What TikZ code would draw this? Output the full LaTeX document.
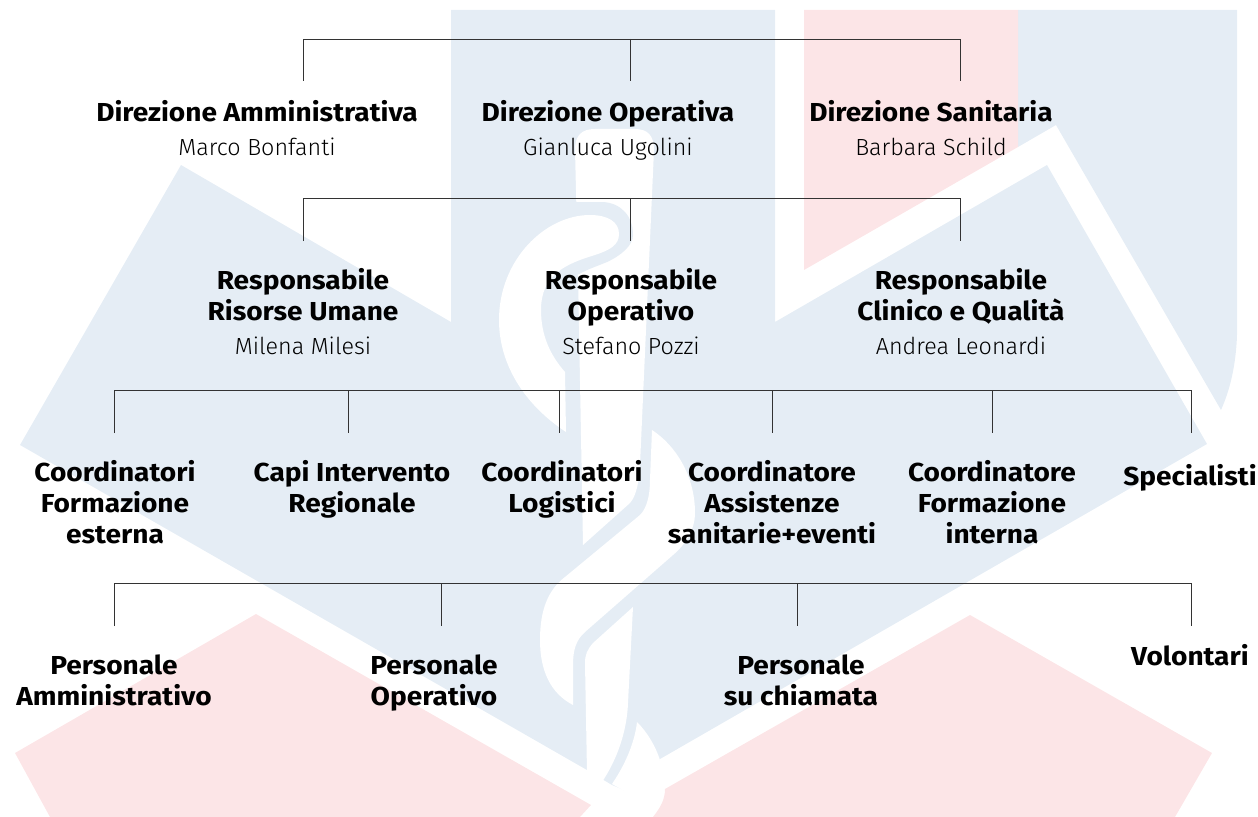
\documentclass[tikz,border=0pt]{standalone}
\usepackage{fontspec}
\setmainfont{Fira Sans}[BoldFeatures={FakeStretch=1.08}]
\newfontfamily\namefont{Fira Sans Light}
\definecolor{bgblue}{HTML}{E5EDF5}
\definecolor{bgpink}{HTML}{FCE5E7}
\definecolor{linecol}{HTML}{333333}
\newcommand{\firstline}{\rule{0pt}{16pt}}
\newcommand{\who}[1]{\\[2.25pt]{\mdseries\namefont\fontsize{17.5}{23.25}\selectfont #1}}
\tikzset{
  x=0.75pt,y=-0.75pt,
  box/.style={anchor=north,align=center,inner sep=0pt,font=\fontsize{19.5}{23.25}\selectfont\bfseries},
  link/.style={draw=linecol,line width=0.6pt},
}
\begin{document}
\begin{tikzpicture}
\useasboundingbox (0,0) rectangle (1258,817);
% background
\fill[bgblue] (451,10)--(775,10)--(775,322)--(1047,165)--(1207,444)--(660,759)--(636,795)--(612,785)--(587,770)--(20,445)--(181,165)--(451,322)--cycle;
\fill[bgblue] (1018,10)--(1237,10)--(1237,335) .. controls (1236,365) and (1230,390) .. (1221,410)--(1056,125)--(1018,147)--cycle;
\fill[bgpink] (804,10)--(1018,10)--(1018,147)--(804,270)--cycle;
\fill[bgpink] (256,614)--(591,805)--(580,817)--(50,817)--(15,753)--cycle;
\fill[bgpink] (970,615)--(1212,753)--(1175,817)--(653,817) .. controls (660,808) and (665,800) .. (665,789)--cycle;
% staff upper
\fill[white] (575,150) .. controls (575,135) and (582,129) .. (595,129)--(635,129) .. controls (648,129) and (654,136) .. (654,150)--(642,420)--(640,465) .. controls (639,480) and (637,495) .. (630,503)--(583,545)--(578,272)--cycle;
\fill[bgblue] (574,202)--(603,202) .. controls (620,203) and (633,215) .. (633,235) .. controls (633,245) and (622,255) .. (607,262) .. controls (595,267) and (585,270) .. (574,277)--cycle;
% snake head
\fill[white] (566,432) .. controls (525,405) and (499,365) .. (499,320) .. controls (499,260) and (545,215) .. (590,215) .. controls (608,215) and (619,222) .. (619,234) .. controls (619,245) and (610,250) .. (595,255) .. controls (565,264) and (541,275) .. (541,310) .. controls (541,335) and (550,355) .. (565,372)--cycle;
% snake lower
\fill[white] (652,430) .. controls (675,445) and (695,475) .. (695,513) .. controls (695,530) and (685,545) .. (673,555)--(585,632) .. controls (576,640) and (573,650) .. (573,665)--(573,705) .. controls (550,693) and (540,670) .. (540,640) .. controls (540,610) and (548,590) .. (565,577)--(640,515) .. controls (647,508) and (650,495) .. (650,480)--cycle;
% staff lower
\fill[white] (633,607)--(593,643) .. controls (587,650) and (585,655) .. (585,663)--(587,772)--(602,782) .. controls (618,758) and (627,730) .. (628,703)--cycle;
\fill[white] (612,784) .. controls (627,762) and (635,740) .. (637,722) .. controls (647,732) and (655,745) .. (660,760)--(640,800)--cycle;

% level 1
\node[box] (da) at (257,100) {\firstline Direzione Amministrativa\who{Marco Bonfanti}};
\node[box] (dop) at (608,100) {\firstline Direzione Operativa\who{Gianluca Ugolini}};
\node[box] (ds) at (931,100) {\firstline Direzione Sanitaria\who{Barbara Schild}};
% level 2
\node[box] (rru) at (303,268) {\firstline Responsabile\\Risorse Umane\who{Milena Milesi}};
\node[box] (rop) at (631,268) {\firstline Responsabile\\Operativo\who{Stefano Pozzi}};
\node[box] (rcq) at (961,268) {\firstline Responsabile\\Clinico e Qualità\who{Andrea Leonardi}};
% level 3
\node[box] (cfe) at (115,460) {\firstline Coordinatori\\Formazione\\esterna};
\node[box] (cir) at (352,460) {\firstline Capi Intervento\\Regionale};
\node[box] (clo) at (562,460) {\firstline Coordinatori\\Logistici};
\node[box] (cas) at (772,460) {\firstline Coordinatore\\Assistenze\\sanitarie+eventi};
\node[box] (cfi) at (992,460) {\firstline Coordinatore\\Formazione\\interna};
\node[box] (spe) at (1190,464) {\firstline Specialisti};
% level 4
\node[box] (pam) at (114,653) {\firstline Personale\\Amministrativo};
\node[box] (pop) at (434,653) {\firstline Personale\\Operativo};
\node[box] (pch) at (801,653) {\firstline Personale\\su chiamata};
\node[box] (vol) at (1190,644) {\firstline Volontari};

% buses
\coordinate (a1) at (303,39); \coordinate (a2) at (630,39); \coordinate (a3) at (960,39);
\coordinate (a1e) at (303,81); \coordinate (a2e) at (630,81); \coordinate (a3e) at (960,81);
\draw[link] (a1e)--(a1)--(a3)--(a3e); \draw[link] (a2)--(a2e);
\coordinate (b1) at (303,198); \coordinate (b2) at (630,198); \coordinate (b3) at (960,198);
\coordinate (b1e) at (303,241); \coordinate (b2e) at (630,241); \coordinate (b3e) at (960,241);
\draw[link] (b1e)--(b1)--(b3)--(b3e); \draw[link] (b2)--(b2e);
\coordinate (c1) at (114,390); \coordinate (c2) at (348,390); \coordinate (c3) at (559,390);
\coordinate (c4) at (772,390); \coordinate (c5) at (992,390); \coordinate (c6) at (1191,390);
\coordinate (c1e) at (114,433); \coordinate (c2e) at (348,433); \coordinate (c3e) at (559,433);
\coordinate (c4e) at (772,433); \coordinate (c5e) at (992,433); \coordinate (c6e) at (1191,433);
\draw[link] (c1e)--(c1)--(c6)--(c6e);
\draw[link] (c2)--(c2e); \draw[link] (c3)--(c3e); \draw[link] (c4)--(c4e); \draw[link] (c5)--(c5e);
\coordinate (e1) at (114,583); \coordinate (e2) at (441,583); \coordinate (e3) at (797,583); \coordinate (e4) at (1191,583);
\coordinate (e1e) at (114,626); \coordinate (e2e) at (441,626); \coordinate (e3e) at (797,626); \coordinate (e4e) at (1191,626);
\draw[link] (e1e)--(e1)--(e4)--(e4e);
\draw[link] (e2)--(e2e); \draw[link] (e3)--(e3e);
\end{tikzpicture}
\end{document}
